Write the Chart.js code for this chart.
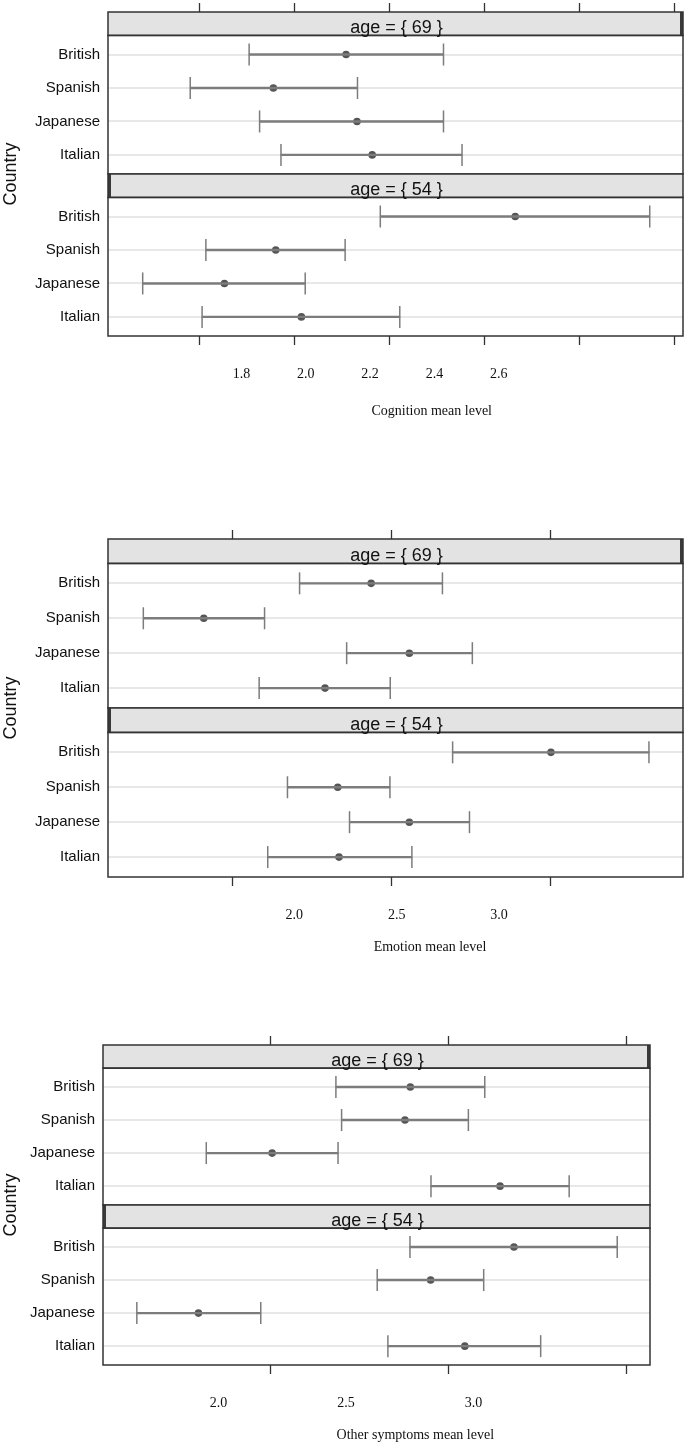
<!DOCTYPE html>
<html>
<head>
<meta charset="utf-8">
<script src="https://cdn.jsdelivr.net/npm/chart.js@4.4.0/dist/chart.umd.min.js"></script>
<style>
html,body{margin:0;padding:0;background:#fff;width:688px;height:1444px;overflow:hidden}
.fig{position:absolute;left:0;width:688px}
canvas{display:block}
</style>
</head>
<body>
<div class="fig" id="f1"><canvas id="c1"></canvas></div>
<div class="fig" id="f2"><canvas id="c2"></canvas></div>
<div class="fig" id="f3"><canvas id="c3"></canvas></div>
<script>
// ---------- data ----------
const countries = ['British', 'Spanish', 'Japanese', 'Italian'];
const ages = ['69', '54'];

// Cognition
const cogTitle = 'Cognition mean level';
const cogTicks = [1.8, 2.0, 2.2, 2.4, 2.6, 2.8];
const cogLabels = [1.8, 2.0, 2.2, 2.4, 2.6];
const cog69Low  = [1.905, 1.781, 1.927, 1.972];
const cog69Mean = [2.109, 1.956, 2.132, 2.164];
const cog69High = [2.314, 2.133, 2.314, 2.353];
const cog54Low  = [2.181, 1.814, 1.681, 1.806];
const cog54Mean = [2.465, 1.961, 1.853, 2.015];
const cog54High = [2.748, 2.107, 2.023, 2.222];

// Emotion
const emoTitle = 'Emotion mean level';
const emoTicks = [2.0, 2.5, 3.0];
const emoLabels = [2.0, 2.5, 3.0];
const emo69Low  = [2.210, 1.719, 2.358, 2.083];
const emo69Mean = [2.435, 1.909, 2.555, 2.290];
const emo69High = [2.659, 2.100, 2.753, 2.495];
const emo54Low  = [2.691, 2.172, 2.367, 2.110];
const emo54Mean = [3.000, 2.330, 2.555, 2.334];
const emo54High = [3.308, 2.494, 2.744, 2.563];

// Other symptoms
const othTitle = 'Other symptoms mean level';
const othTicks = [2.0, 2.5, 3.0];
const othLabels = [2.0, 2.5, 3.0];
const oth69Low  = [2.183, 2.199, 1.819, 2.450];
const oth69Mean = [2.392, 2.377, 2.004, 2.644];
const oth69High = [2.601, 2.555, 2.189, 2.838];
const oth54Low  = [2.391, 2.299, 1.624, 2.329];
const oth54Mean = [2.683, 2.449, 1.797, 2.545];
const oth54High = [2.973, 2.598, 1.972, 2.758];

// ---------- layout (row units on the y scale) ----------
const STRIP = 0.7, PAD = 0.57;
const STEP = STRIP + 2 * PAD + (countries.length - 1);
const rowPos = (p, i) => p * STEP + STRIP + PAD + i;

const SANS = '"Liberation Sans", Arial, Helvetica, sans-serif';
const SERIF = '"Liberation Serif", "Times New Roman", Times, serif';
Chart.defaults.font.family = SANS;

const figures = [
  { id: 'c1', box: 'f1', top: 3, height: 430, left: 108, right: 683, padBottom: 48,
    xMin: 1.608, xMax: 2.818, lMin: 1.385, lMax: 3.173, ticks: cogTicks, labels: cogLabels,
    title: cogTitle, titleFrac: 0.563, titleOffset: 66,
    series: [[cog69Low, cog69Mean, cog69High], [cog54Low, cog54Mean, cog54High]] },
  { id: 'c2', box: 'f2', top: 530, height: 430, left: 108, right: 683, padBottom: 34,
    xMin: 1.608, xMax: 3.415, lMin: 1.089, lMax: 3.900, ticks: emoTicks, labels: emoLabels,
    title: emoTitle, titleFrac: 0.56, titleOffset: 61,
    series: [[emo69Low, emo69Mean, emo69High], [emo54Low, emo54Mean, emo54High]] },
  { id: 'c3', box: 'f3', top: 1036, height: 408, left: 103, right: 650, padBottom: 30,
    xMin: 1.529, xMax: 3.065, lMin: 1.547, lMax: 3.692, ticks: othTicks, labels: othLabels,
    title: othTitle, titleFrac: 0.571, titleOffset: 61,
    series: [[oth69Low, oth69Mean, oth69High], [oth54Low, oth54Mean, oth54High]] }
];

const panelPlugin = {
  id: 'panels',
  afterDraw(chart, args, opts) {
    const { ctx, chartArea: a, scales } = chart;
    const y = scales.y, xl = scales.xl;
    ctx.save();
    ages.forEach((age, p) => {
      const s = p * STEP;
      const y0 = y.getPixelForValue(s);
      const y1 = y.getPixelForValue(s + STRIP);
      const y2 = y.getPixelForValue(s + STEP);
      ctx.fillStyle = '#e3e3e3';
      ctx.fillRect(a.left, y0, a.width, y1 - y0);
      ctx.fillStyle = '#3a3a3a';
      if (p === 0) ctx.fillRect(a.right - 3, y0, 3, y1 - y0);
      else ctx.fillRect(a.left, y0, 3, y1 - y0);
      ctx.lineWidth = 1.5;
      ctx.strokeStyle = '#333';
      ctx.strokeRect(a.left, y0, a.width, y1 - y0);
      ctx.strokeRect(a.left, y1, a.width, y2 - y1);
      ctx.fillStyle = '#111';
      ctx.font = '18px ' + SANS;
      ctx.textAlign = 'center';
      ctx.textBaseline = 'alphabetic';
      ctx.fillText('age = { ' + age + ' }', (a.left + a.right) / 2 + 1, y1 - 2);
    });
    ctx.font = '14px ' + SERIF;
    ctx.fillStyle = '#111';
    ctx.textAlign = 'center';
    ctx.textBaseline = 'middle';
    ctx.fillText(opts.title, a.left + opts.titleFrac * a.width, xl.top + opts.titleOffset);
    ctx.restore();
  }
};

figures.forEach(f => {
  const box = document.getElementById(f.box);
  box.style.top = f.top + 'px';
  box.style.height = f.height + 'px';
  const cv = document.getElementById(f.id);
  cv.width = 688; cv.height = f.height;

  const datasets = [];
  f.series.forEach(([lo, mean, hi], p) => {
    datasets.push({
      type: 'bar', indexAxis: 'y', xAxisID: 'x', yAxisID: 'y', grouped: false,
      data: countries.map((c, i) => ({ x: [lo[i], hi[i]], y: rowPos(p, i) })),
      backgroundColor: '#7c7c7c', borderWidth: 0, barThickness: 1.7
    });
    datasets.push({
      type: 'scatter', xAxisID: 'x', yAxisID: 'y',
      data: countries.flatMap((c, i) => [{ x: lo[i], y: rowPos(p, i) }, { x: hi[i], y: rowPos(p, i) }]),
      pointStyle: 'line', rotation: 90, radius: 11, borderColor: '#7c7c7c', borderWidth: 1.5,
      backgroundColor: '#7c7c7c'
    });
    datasets.push({
      type: 'scatter', xAxisID: 'x', yAxisID: 'y',
      data: countries.map((c, i) => ({ x: mean[i], y: rowPos(p, i) })),
      pointStyle: 'circle', radius: 3.8, backgroundColor: '#555', borderWidth: 0
    });
  });

  const rowTicks = [];
  ages.forEach((a, p) => countries.forEach((c, i) => rowTicks.push(rowPos(p, i))));

  const tickAxis = (pos, weight) => ({
    type: 'linear', position: pos, min: f.xMin, max: f.xMax, weight, offset: false,
    afterBuildTicks: s => { s.ticks = f.ticks.map(v => ({ value: v })); },
    ticks: { display: false },
    grid: { display: true, drawOnChartArea: false, drawTicks: true, tickLength: 9,
            tickColor: '#333', tickWidth: 1.3, offset: false },
    border: { display: false },
    afterFit: s => { s.height = 9; s.paddingLeft = 0; s.paddingRight = 0; }
  });

  new Chart(cv, {
    type: 'scatter',
    data: { datasets },
    plugins: [panelPlugin],
    options: {
      responsive: false,
      animation: false,
      events: [],
      layout: { autoPadding: false,
                padding: { left: 0, right: 688 - f.right, top: 0, bottom: f.padBottom } },
      plugins: {
        legend: { display: false },
        tooltip: { enabled: false },
        panels: { title: f.title, titleFrac: f.titleFrac, titleOffset: f.titleOffset }
      },
      scales: {
        x: tickAxis('bottom', 0),
        xt: tickAxis('top', 0),
        xl: {
          type: 'linear', position: 'bottom', min: f.lMin, max: f.lMax, weight: 1, offset: false,
          afterBuildTicks: s => { s.ticks = f.labels.map(v => ({ value: v })); },
          ticks: { display: true, autoSkip: false, maxRotation: 0, padding: 21,
                   color: '#111', font: { family: SERIF, size: 14 },
                   callback: v => Number(v).toFixed(1) },
          grid: { display: false, drawTicks: false },
          border: { display: false },
          afterFit: s => { s.height = 40; s.paddingLeft = 0; s.paddingRight = 0; }
        },
        y: {
          type: 'linear', position: 'left', reverse: true, min: 0, max: 2 * STEP, offset: false,
          afterBuildTicks: s => { s.ticks = rowTicks.map(v => ({ value: v })); },
          ticks: { display: true, autoSkip: false, padding: 8, color: '#111',
                   font: { family: SANS, size: 15 },
                   callback: (v, i) => countries[i % countries.length] },
          grid: { display: true, drawOnChartArea: true, drawTicks: false, color: '#e8e8e8',
                  lineWidth: 2, offset: false },
          border: { display: false },
          title: { display: true, text: 'Country', color: '#111', padding: 0,
                   font: { family: SANS, size: 18 } },
          afterFit: s => { s.width = f.left; s.paddingTop = 0; s.paddingBottom = 0; }
        }
      }
    }
  });
});
</script>
</body>
</html>
